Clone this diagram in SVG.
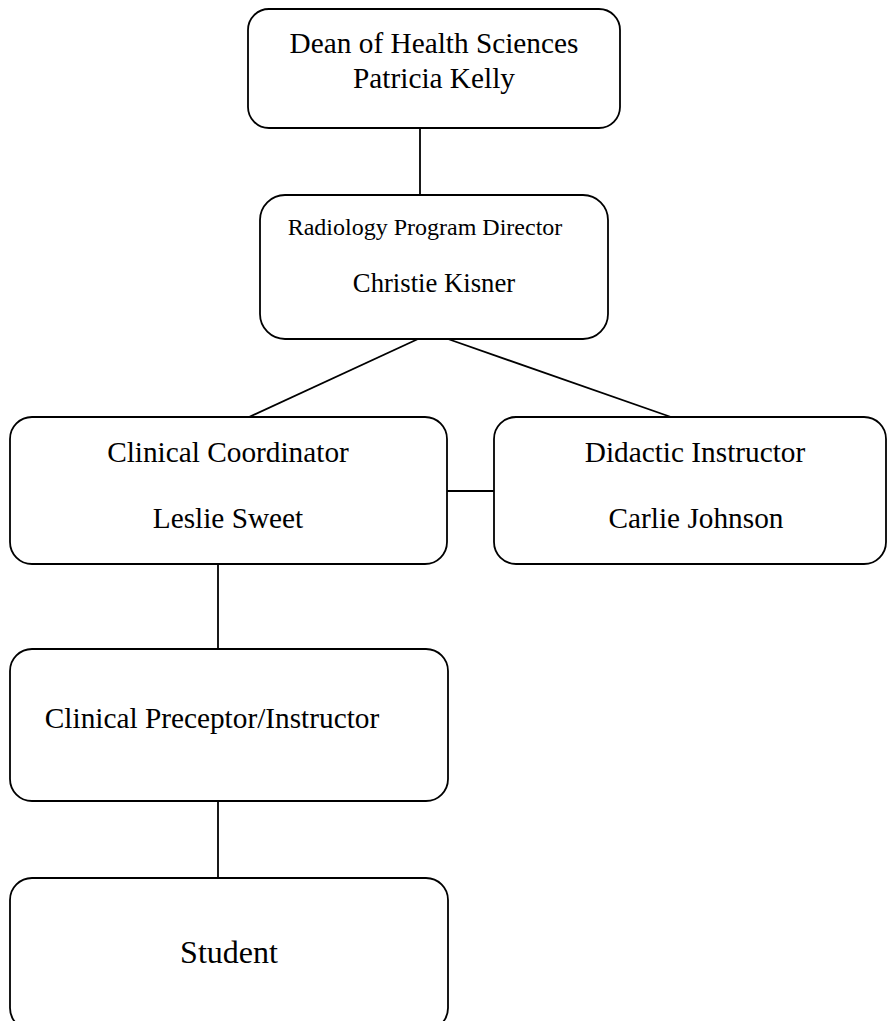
<svg xmlns="http://www.w3.org/2000/svg" width="888" height="1021" viewBox="0 0 888 1021">
<style>
.box{fill:#fff;stroke:#000;stroke-width:1.8}
.t{font-family:"Liberation Serif","Times New Roman",serif;fill:#000;text-anchor:middle}
.conn line{stroke:#000;stroke-width:1.8}
</style>
<rect width="888" height="1021" fill="#fff"/>
<g class="conn" id="connectors">
<line x1="420" y1="128" x2="420" y2="195"/>
<line x1="418" y1="339" x2="249" y2="417"/>
<line x1="448" y1="339" x2="671" y2="417"/>
<line x1="447" y1="491" x2="494" y2="491"/>
<line x1="218" y1="564" x2="218" y2="649"/>
<line x1="218" y1="801" x2="218" y2="878"/>
</g>
<g id="dean">
<rect class="box" x="248" y="9" width="372" height="119" rx="21"/>
<text class="t" x="434" y="53" font-size="29.3">Dean of Health Sciences</text>
<text class="t" x="434" y="88" font-size="29.3">Patricia Kelly</text>
</g>
<g id="director">
<rect class="box" x="260" y="195" width="348" height="144" rx="25"/>
<text class="t" x="425" y="235" font-size="24">Radiology Program Director</text>
<text class="t" x="434" y="292" font-size="26.7">Christie Kisner</text>
</g>
<g id="coordinator">
<rect class="box" x="10" y="417" width="437" height="147" rx="22"/>
<text class="t" x="228" y="462" font-size="29.3">Clinical Coordinator</text>
<text class="t" x="228" y="528" font-size="29.3">Leslie Sweet</text>
</g>
<g id="didactic">
<rect class="box" x="494" y="417" width="392" height="147" rx="22"/>
<text class="t" x="695" y="462" font-size="29.3">Didactic Instructor</text>
<text class="t" x="696" y="528" font-size="29.3">Carlie Johnson</text>
</g>
<g id="preceptor">
<rect class="box" x="10" y="649" width="438" height="152" rx="22"/>
<text class="t" x="212" y="728" font-size="29.3">Clinical Preceptor/Instructor</text>
</g>
<g id="student">
<rect class="box" x="10" y="878" width="438" height="152" rx="22"/>
<text class="t" x="229" y="963" font-size="32">Student</text>
</g>
</svg>
